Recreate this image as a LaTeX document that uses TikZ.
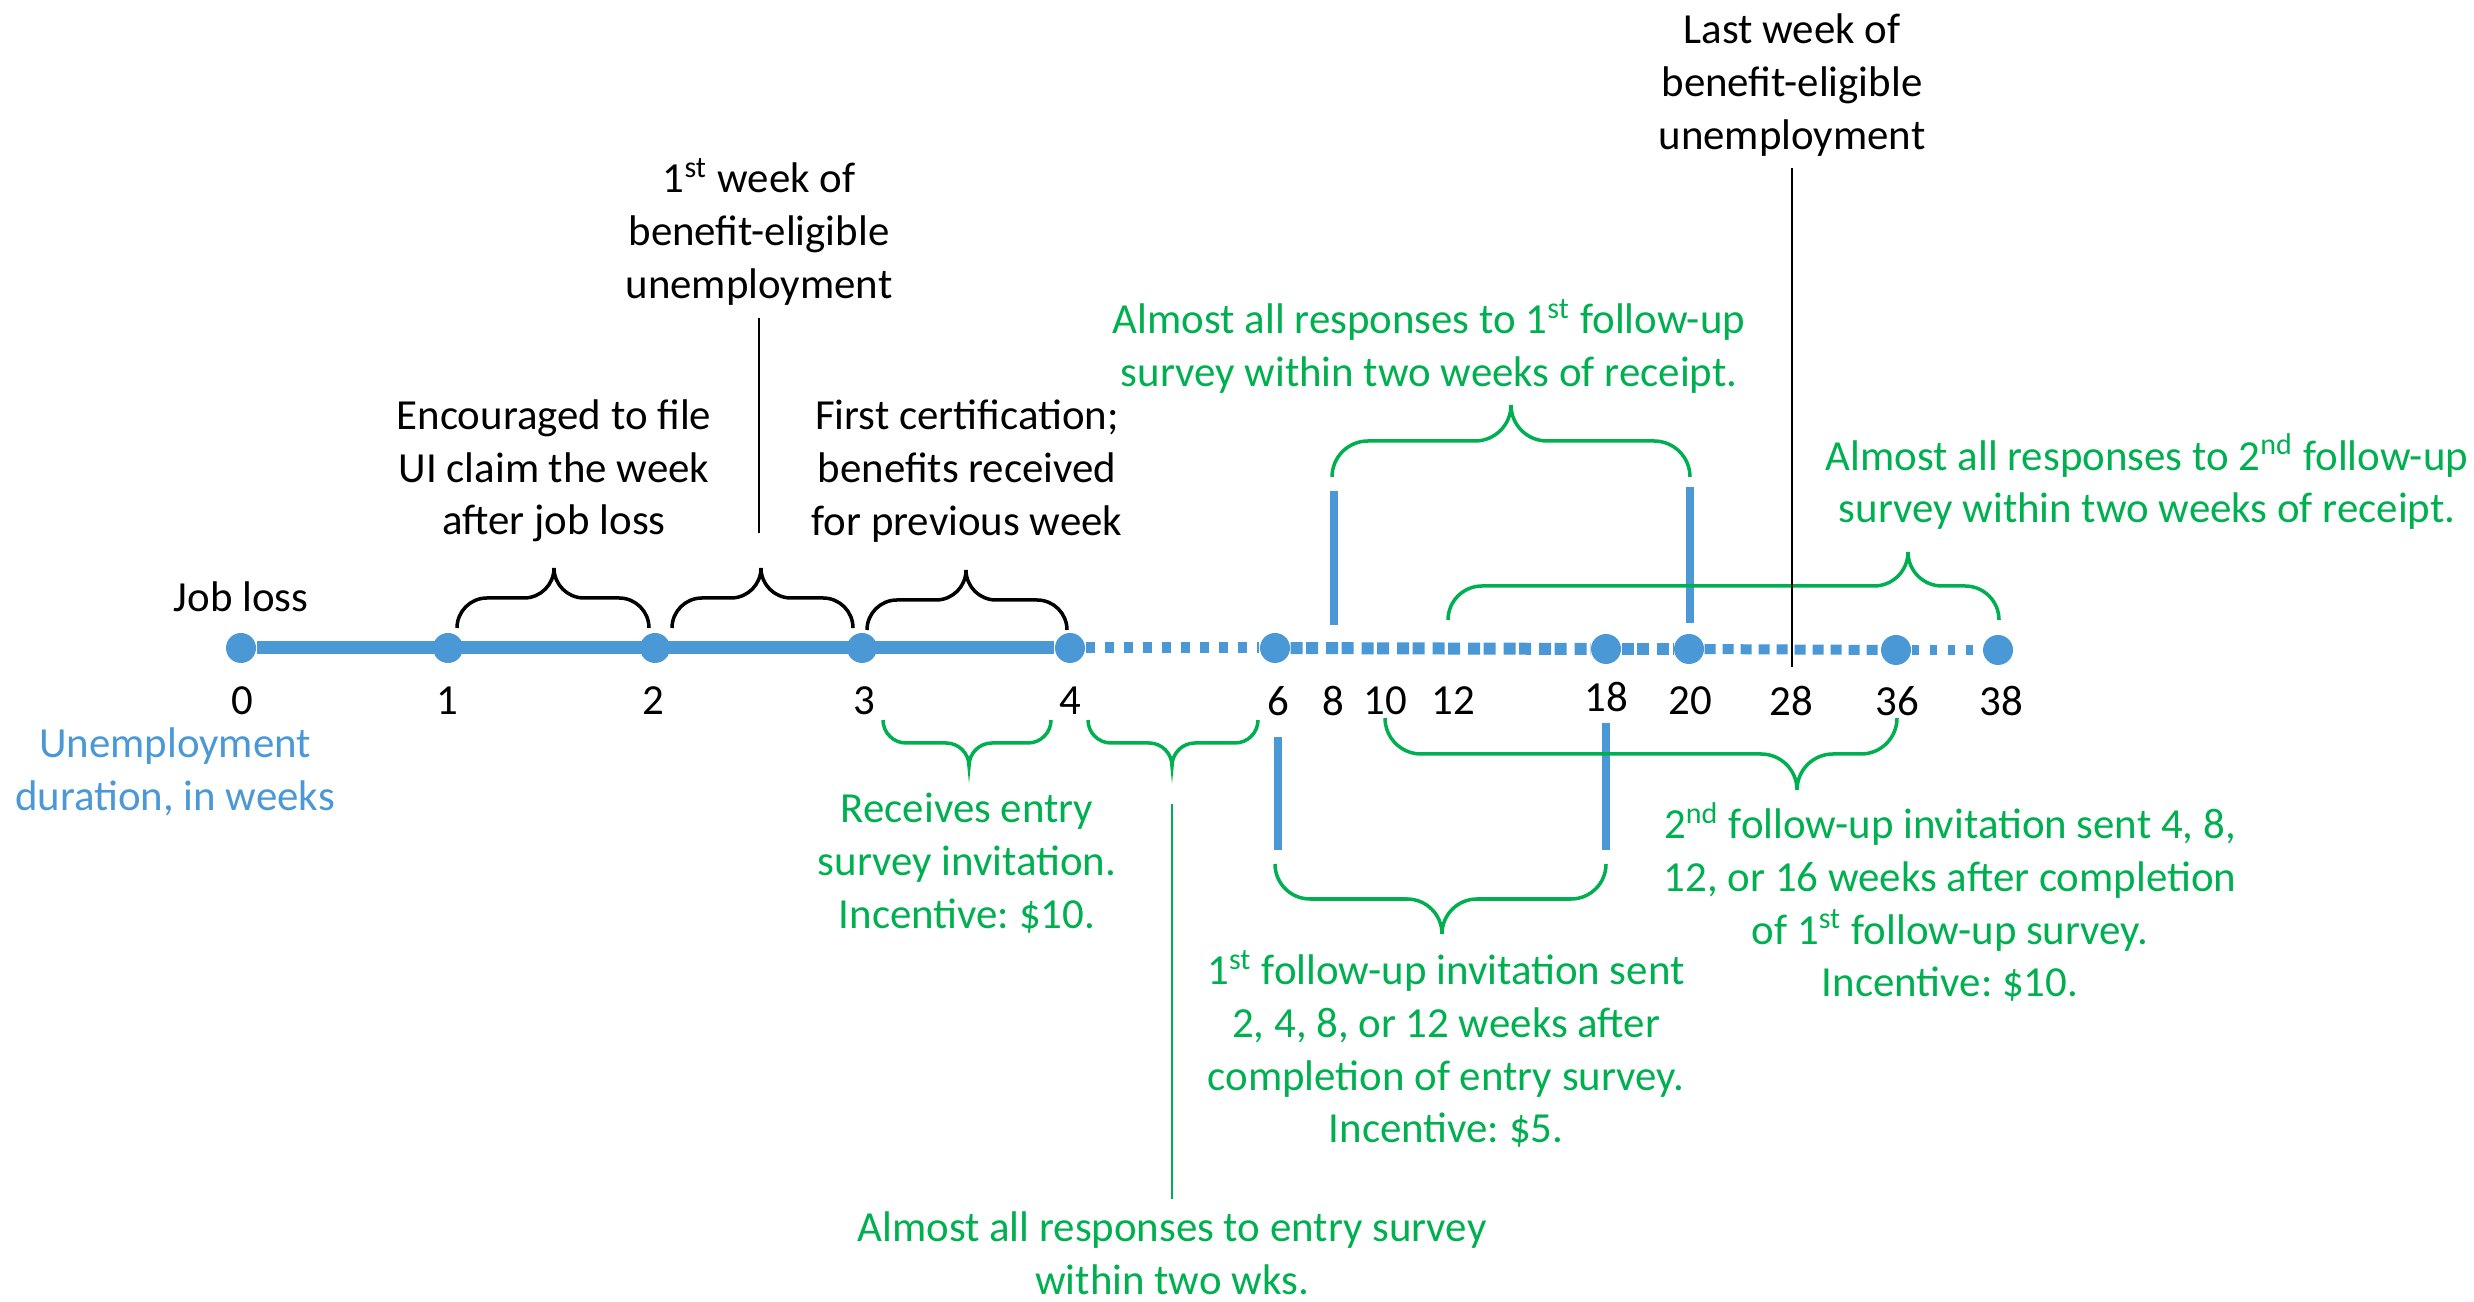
\documentclass[tikz,border=0pt]{standalone}
\usepackage{fontspec}
\setmainfont{Carlito}
\usetikzlibrary{positioning}
\frenchspacing

\definecolor{tlblue}{RGB}{74,152,214}
\definecolor{tlgreen}{RGB}{0,176,80}

% curly brace: style, left x, tip x, right x, end y, radius, 1 = up / -1 = down
\newcommand{\curly}[7]{%
  \draw[#1] (#2,#5)
    arc[start angle=(#7)*180, end angle=(#7)*90, radius=#6]
    -- ({#3-#6},{#5+(#7)*#6})
    arc[start angle=(#7)*270, end angle=(#7)*360, radius=#6]
    arc[start angle=(#7)*180, end angle=(#7)*270, radius=#6]
    -- ({#4-#6},{#5+(#7)*#6})
    arc[start angle=(#7)*90, end angle=0, radius=#6];}

\begin{document}
\begin{tikzpicture}[
  font=\fontsize{12.2}{15}\selectfont,
  dot/.style={circle, fill=tlblue, inner sep=0pt, minimum size=3mm},
  lbl/.style={align=center},
  glbl/.style={align=center, text=tlgreen},
  solidseg/.style={tlblue, line width=1.3mm},
  dotseg/.style={tlblue, line width=1.1mm, dash pattern=on 0.9mm off 1mm},
  pairseg/.style={tlblue, line width=1.2mm, dash pattern=on 1.2mm off 0.35mm on 1.2mm off 0.8mm},
  thinseg/.style={tlblue, line width=1mm, dash pattern=on 1.1mm off 0.7mm},
  endseg/.style={tlblue, line width=1mm, dash pattern=on 0.7mm off 1.1mm},
  bluebar/.style={tlblue, line width=0.75mm},
  blackbr/.style={black, line width=1pt},
  greenbr/.style={tlgreen, line width=1pt},
  lead/.style={line width=0.8pt}
]
  \useasboundingbox (0,0) rectangle (24.74,13.02);

  % timeline
  \node[dot] (t0) at (2.41,6.54) {};
  \node[dot] (t1) at (4.48,6.54) {};
  \node[dot] (t2) at (6.55,6.54) {};
  \node[dot] (t3) at (8.62,6.54) {};
  \node[dot] (t4) at (10.70,6.54) {};
  \node[dot] (t6) at (12.75,6.54) {};
  \node[dot] (t18) at (16.06,6.53) {};
  \node[dot] (t20) at (16.89,6.53) {};
  \node[dot] (t36) at (18.96,6.52) {};
  \node[dot] (t38) at (19.98,6.52) {};
  \draw[solidseg] (t0) -- (t4);
  \draw[dotseg] (t4) -- (t6);
  \draw[pairseg] (t6) -- (t18);
  \draw[pairseg] (t18) -- (t20);
  \draw[thinseg] (t20) -- (t36);
  \draw[endseg] (t36) -- (t38);

  \node (l0) at (2.42,6.01) {0};
  \node (l1) at (4.47,6.01) {1};
  \node (l2) at (6.53,6.01) {2};
  \node (l3) at (8.64,6.01) {3};
  \node (l4) at (10.70,6.01) {4};
  \node (l6) at (12.78,6.01) {6};
  \node (l8) at (13.33,6.01) {8};
  \node (l10) at (13.85,6.01) {10};
  \node (l12) at (14.53,6.01) {12};
  \node (l18) at (16.06,6.05) {18};
  \node (l20) at (16.90,6.01) {20};
  \node (l28) at (17.91,6.01) {28};
  \node (l36) at (18.97,6.01) {36};
  \node (l38) at (20.01,6.01) {38};
  \node[lbl, text=tlblue] (unemp) at (1.75,5.30) {Unemployment\\duration, in weeks};

  % markers on the survey weeks
  \draw[bluebar] (13.34,8.11) -- (13.34,6.77);
  \draw[bluebar] (16.90,8.15) -- (16.90,6.79);
  \draw[bluebar] (12.78,5.65) -- (12.78,4.52);
  \draw[bluebar] (16.06,5.79) -- (16.06,4.52);

  % black labels above
  \node (jobloss) at (2.41,7.05) {Job loss};
  \node[lbl] (enc) at (5.54,8.31) {Encouraged to file\\UI claim the week\\after job loss};
  \node[lbl] (wkone) at (7.59,10.70) {1\textsuperscript{st} week of\\benefit-eligible\\unemployment};
  \node[lbl] (cert) at (9.67,8.31) {First certification;\\benefits received\\for previous week};
  \node[lbl] (lastwk) at (17.92,12.17) {Last week of\\benefit-eligible\\unemployment};
  \curly{blackbr}{4.57}{5.54}{6.49}{6.74}{0.30}{1}
  \curly{blackbr}{6.72}{7.61}{8.53}{6.74}{0.30}{1}
  \curly{blackbr}{8.67}{9.66}{10.67}{6.72}{0.30}{1}

  % green survey notes
  \node[glbl] (respone) at (14.29,9.56) {Almost all responses to 1\textsuperscript{st} follow-up\\survey within two weeks of receipt.};
  \node[glbl] (resptwo) at (21.47,8.20) {Almost all responses to 2\textsuperscript{nd} follow-up\\survey within two weeks of receipt.};
  \node[glbl] (recv) at (9.67,4.39) {Receives entry\\survey invitation.\\Incentive: \$10.};
  \node[glbl] (respentry) at (11.72,0.49) {Almost all responses to entry survey\\within two wks.};
  \node[glbl] (fuone) at (14.46,2.53) {1\textsuperscript{st} follow-up invitation sent\\2, 4, 8, or 12 weeks after\\completion of entry survey.\\Incentive: \$5.};
  \node[glbl] (futwo) at (19.50,4.00) {2\textsuperscript{nd} follow-up invitation sent 4, 8,\\12, or 16 weeks after completion\\of 1\textsuperscript{st} follow-up survey.\\Incentive: \$10.};
  \curly{greenbr}{13.32}{15.11}{16.90}{8.25}{0.36}{1}
  \curly{greenbr}{14.48}{19.08}{19.99}{6.82}{0.34}{1}
  \curly{greenbr}{8.83}{9.69}{10.51}{5.82}{0.23}{-1}
  \curly{greenbr}{10.88}{11.72}{12.58}{5.82}{0.23}{-1}
  \curly{greenbr}{12.75}{14.42}{16.06}{4.38}{0.35}{-1}
  \curly{greenbr}{13.85}{17.97}{18.97}{5.84}{0.36}{-1}
  \coordinate (entrytop) at (11.72,4.98);
  \draw[tlgreen, lead] (respentry.north) -- (entrytop);

  % leaders from the black labels
  \coordinate (wkoneend) at (7.59,7.69);
  \coordinate (lastend) at (17.92,6.35);
  \draw[lead] (wkone.south) -- (wkoneend);
  \draw[lead] (lastwk.south) -- (lastend);
\end{tikzpicture}
\end{document}
